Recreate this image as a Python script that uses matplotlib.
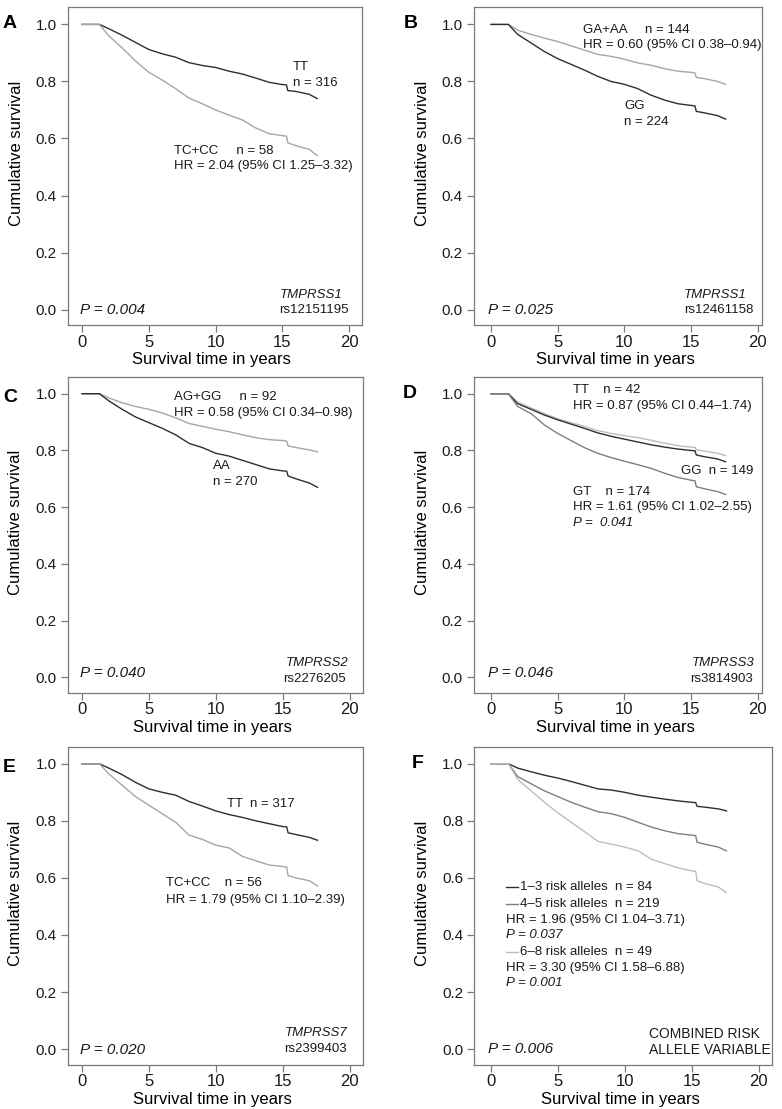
import matplotlib
matplotlib.use("Agg")
import matplotlib.pyplot as plt
import numpy as np

plt.rcParams['font.family'] = ['Liberation Sans', 'DejaVu Sans']

# ---------------------------------------------------------------------------
# data (survival at these times in years)
# ---------------------------------------------------------------------------
years = [0, 1.3, 2, 3, 4, 5, 6, 7, 8, 9, 10, 11, 12, 13, 14, 15, 15.3, 15.4, 16, 17, 17.6]

a_tt = [1, 1, .985, .962, .937, .912, .897, .885, .866, .856, .849, .836, .826, .812, .797, .789, .788, .768, .765, .755, .740]
a_tc_cc = [1, 1, .960, .918, .872, .832, .805, .775, .742, .722, .700, .682, .665, .637, .617, .610, .608, .585, .575, .562, .540]

b_ga_aa = [1, 1, .980, .965, .952, .940, .925, .910, .895, .888, .878, .865, .857, .845, .836, .832, .830, .814, .810, .800, .790]
b_gg = [1, 1, .965, .935, .905, .880, .860, .840, .818, .800, .790, .775, .752, .735, .722, .716, .714, .695, .690, .680, .668]

c_ag_gg = [1, 1, .985, .968, .955, .945, .932, .915, .895, .885, .875, .866, .855, .845, .838, .835, .833, .816, .810, .802, .795]
c_aa = [1, 1, .975, .945, .918, .898, .878, .855, .825, .810, .790, .780, .765, .750, .735, .728, .727, .710, .700, .685, .670]

d_gg = [1, 1, .965, .945, .925, .908, .893, .878, .862, .850, .840, .830, .820, .812, .805, .800, .799, .784, .778, .770, .760]
d_tt = [1, 1, .970, .950, .930, .912, .898, .885, .870, .860, .852, .845, .836, .826, .817, .812, .811, .802, .798, .790, .782]
d_gt = [1, 1, .955, .930, .890, .860, .835, .810, .790, .775, .762, .750, .737, .720, .705, .695, .693, .672, .665, .655, .645]

e_tt = [1, 1, .985, .962, .935, .912, .900, .890, .868, .852, .835, .822, .812, .800, .790, .780, .779, .758, .752, .742, .732]
e_tc_cc = [1, 1, .965, .925, .885, .855, .825, .795, .750, .735, .715, .705, .675, .660, .645, .640, .638, .608, .600, .590, .572]

f_13 = [1, 1, .985, .972, .960, .950, .938, .925, .912, .908, .900, .890, .883, .876, .870, .865, .864, .851, .848, .842, .835]
f_45 = [1, 1, .955, .930, .905, .885, .865, .848, .832, .825, .812, .795, .778, .765, .755, .750, .748, .725, .718, .708, .695]
f_68 = [1, 1, .945, .905, .865, .828, .795, .762, .728, .718, .708, .695, .665, .650, .635, .625, .623, .590, .580, .568, .548]

x_ticks = [0, 5, 10, 15, 20]
y_ticks = [0.0, 0.2, 0.4, 0.6, 0.8, 1.0]

DARK = '#2e2e2e'
MID = '#7f7f7f'
LIGHT = '#a6a6a6'
LIGHTEST = '#bdbdbd'
SPINE = '#7a7a7a'

W, H = 782, 1109
fig = plt.figure(figsize=(W / 100, H / 100), dpi=100)


def add_panel(left, top, right, bottom, xlim):
    ax = fig.add_axes([left / W, 1 - bottom / H, (right - left) / W, (bottom - top) / H])
    ax.set_xlim(*xlim)
    ax.set_ylim(-0.054, 1.06)
    ax.set_xticks(x_ticks)
    ax.set_yticks(y_ticks)
    ax.set_yticklabels([f"{v:.1f}" for v in y_ticks])
    for s in ax.spines.values():
        s.set_color(SPINE)
        s.set_linewidth(0.9)
    ax.tick_params(colors=SPINE, labelcolor='#1a1a1a', length=5, width=0.9)
    ax.tick_params(axis='x', labelsize=12, pad=2)
    ax.tick_params(axis='y', labelsize=11, pad=3)
    ax.set_ylabel("Cumulative survival", fontsize=12)
    ax.set_xlabel("Survival time in years", fontsize=12)
    ax.yaxis.set_label_coords(-0.15, 0.54)
    ax.xaxis.set_label_coords(0.49, -0.085)
    return ax


def txt(ax, x, y, s, **kw):
    kw.setdefault('fontsize', 9.5)
    ax.text(x, y, s, va='center', ha='left', color='#1a1a1a', **kw)


def pval(ax, x, y, s):
    txt(ax, x, y, s, style='italic', fontsize=11)


# ---------------------------------------------------------------- A
ax = add_panel(67.7, 7.3, 361.7, 325, (-1.07, 20.93))
ax.plot(years, a_tt, color=DARK, lw=1)
ax.plot(years, a_tc_cc, color=LIGHT, lw=1)
txt(ax, 15.8, 0.851, "TT")
txt(ax, 15.8, 0.795, "n = 316")
txt(ax, 6.9, 0.556, "TC+CC     n = 58")
txt(ax, 6.9, 0.505, "HR = 2.04 (95% CI 1.25\u20133.32)")
pval(ax, -0.15, 0.0, "P = 0.004")
txt(ax, 14.8, 0.052, "TMPRSS1", style='italic')
txt(ax, 14.75, -0.002, "rs12151195")

# ---------------------------------------------------------------- B
ax = add_panel(473.7, 7.3, 762, 325, (-1.3, 20.33))
ax.plot(years, b_ga_aa, color=LIGHT, lw=1)
ax.plot(years, b_gg, color=DARK, lw=1)
txt(ax, 6.88, 0.979, "GA+AA     n = 144")
txt(ax, 6.88, 0.927, "HR = 0.60 (95% CI 0.38\u20130.94)")
txt(ax, 10.0, 0.713, "GG")
txt(ax, 10.0, 0.658, "n = 224")
pval(ax, -0.2, 0.0, "P = 0.025")
txt(ax, 14.5, 0.052, "TMPRSS1", style='italic')
txt(ax, 14.5, -0.002, "rs12461158")

# ---------------------------------------------------------------- C
ax = add_panel(67.7, 376.7, 363, 692.7, (-1.07, 21.0))
ax.plot(years, c_ag_gg, color=LIGHT, lw=1)
ax.plot(years, c_aa, color=DARK, lw=1)
txt(ax, 6.9, 0.988, "AG+GG     n = 92")
txt(ax, 6.9, 0.932, "HR = 0.58 (95% CI 0.34\u20130.98)")
txt(ax, 9.78, 0.744, "AA")
txt(ax, 9.78, 0.69, "n = 270")
pval(ax, -0.15, 0.014, "P = 0.040")
txt(ax, 15.2, 0.052, "TMPRSS2", style='italic')
txt(ax, 15.0, -0.004, "rs2276205")

# ---------------------------------------------------------------- D
ax = add_panel(473.7, 376.7, 762, 692.7, (-1.3, 20.33))
ax.plot(years, d_tt, color=LIGHTEST, lw=1)
ax.plot(years, d_gg, color=DARK, lw=1)
ax.plot(years, d_gt, color=MID, lw=1)
txt(ax, 6.17, 1.014, "TT    n = 42")
txt(ax, 6.17, 0.958, "HR = 0.87 (95% CI 0.44\u20131.74)")
txt(ax, 14.23, 0.726, "GG  n = 149")
txt(ax, 6.17, 0.653, "GT    n = 174")
txt(ax, 6.17, 0.600, "HR = 1.61 (95% CI 1.02\u20132.55)")
txt(ax, 6.17, 0.544, "P =  0.041", style='italic')
pval(ax, -0.25, 0.016, "P = 0.046")
txt(ax, 15.1, 0.052, "TMPRSS3", style='italic')
txt(ax, 14.9, -0.004, "rs3814903")

# ---------------------------------------------------------------- E
ax = add_panel(67.7, 746.7, 363, 1064.5, (-1.07, 21.0))
ax.plot(years, e_tt, color=DARK, lw=1)
ax.plot(years, e_tc_cc, color=LIGHT, lw=1)
txt(ax, 10.82, 0.86, "TT  n = 317")
txt(ax, 6.26, 0.581, "TC+CC    n = 56")
txt(ax, 6.26, 0.523, "HR = 1.79 (95% CI 1.10\u20132.39)")
pval(ax, -0.15, -0.003, "P = 0.020")
txt(ax, 15.14, 0.058, "TMPRSS7", style='italic')
txt(ax, 15.14, 0.0, "rs2399403")

# ---------------------------------------------------------------- F
ax = add_panel(474.3, 746.7, 772, 1064.5, (-1.25, 21.0))
ax.plot(years, f_13, color=DARK, lw=1)
ax.plot(years, f_45, color=MID, lw=1)
ax.plot(years, f_68, color=LIGHTEST, lw=1)
for yy, col, lab in [(0.569, DARK, "1\u20133 risk alleles  n = 84"),
                     (0.510, MID, "4\u20135 risk alleles  n = 219"),
                     (0.341, LIGHTEST, "6\u20138 risk alleles  n = 49")]:
    ax.plot([1.12, 1.99], [yy, yy], color=col, lw=1)
    txt(ax, 2.15, yy, lab)
txt(ax, 1.12, 0.452, "HR = 1.96 (95% CI 1.04\u20133.71)")
txt(ax, 1.12, 0.400, "P = 0.037", style='italic')
txt(ax, 1.12, 0.283, "HR = 3.30 (95% CI 1.58\u20136.88)")
txt(ax, 1.12, 0.231, "P = 0.001", style='italic')
pval(ax, -0.25, 0.0, "P = 0.006")
txt(ax, 11.83, 0.054, "COMBINED RISK", fontsize=10)
txt(ax, 11.83, -0.002, "ALLELE VARIABLE", fontsize=10)

# panel letters
for lx, ly, let in [(3, 24, "A"), (404, 24, "B"), (3, 397, "C"),
                    (403, 394, "D"), (3, 767, "E"), (412, 763, "F")]:
    fig.text(lx / W, 1 - ly / H, let, fontsize=14, fontweight='bold',
             ha='left', va='center')

fig.savefig("out.png", dpi=100)
